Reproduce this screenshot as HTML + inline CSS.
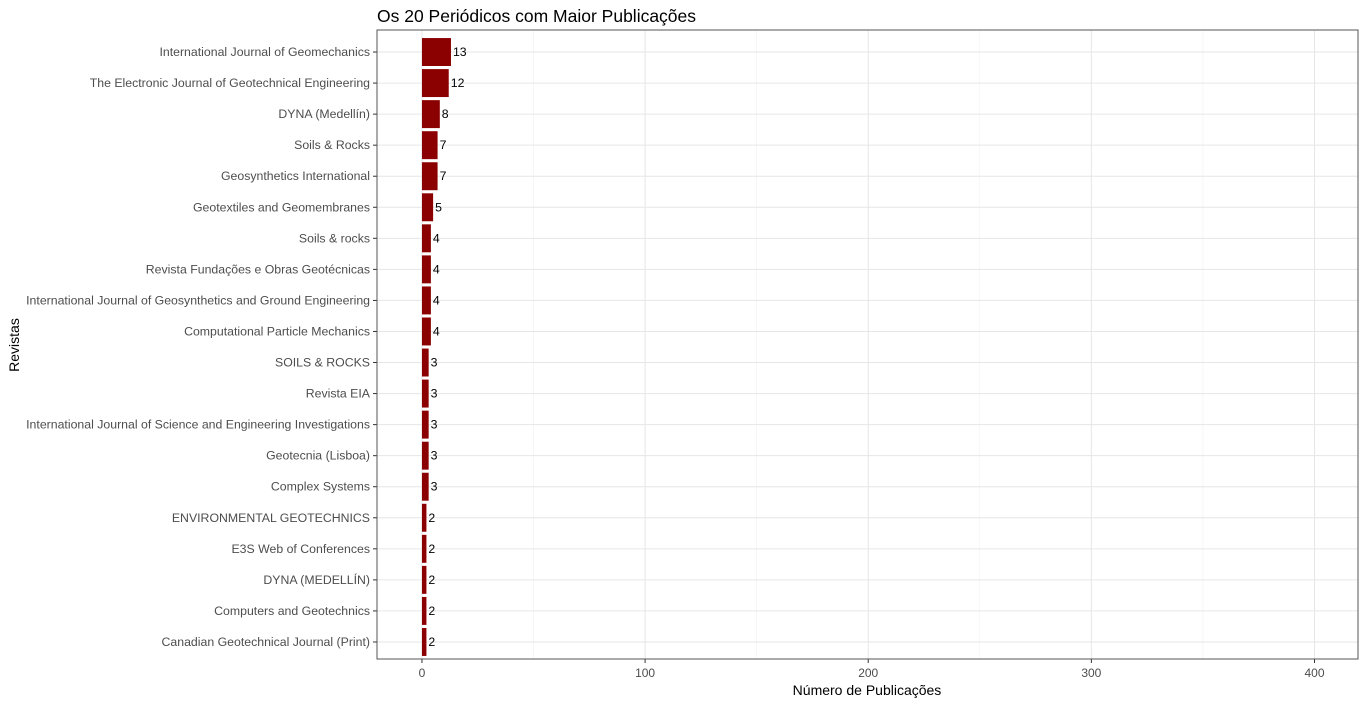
<!DOCTYPE html>
<html><head><meta charset="utf-8"><style>
body{margin:0;background:#fff;font-family:"Liberation Sans",Arial,sans-serif}
svg text{font-family:"Liberation Sans",Arial,sans-serif}
</style></head><body>
<svg id="c" width="1366" height="705"></svg>
<script>
const categories=["International Journal of Geomechanics","The Electronic Journal of Geotechnical Engineering","DYNA (Medellín)","Soils & Rocks","Geosynthetics International","Geotextiles and Geomembranes","Soils & rocks","Revista Fundações e Obras Geotécnicas","International Journal of Geosynthetics and Ground Engineering","Computational Particle Mechanics","SOILS & ROCKS","Revista EIA","International Journal of Science and Engineering Investigations","Geotecnia (Lisboa)","Complex Systems","ENVIRONMENTAL GEOTECHNICS","E3S Web of Conferences","DYNA (MEDELLÍN)","Computers and Geotechnics","Canadian Geotechnical Journal (Print)"];
const values=[13,12,8,7,7,5,4,4,4,4,3,3,3,3,3,2,2,2,2,2];
const xTicks=[0,100,200,300,400];
const xMinor=[50,150,250,350];
const svg=document.getElementById('c');
const NS='http://www.w3.org/2000/svg';
const L=377,R=1358,B=659;
const x0=-20.15,x1=419.5;
const xs=v=>L+(v-x0)/(x1-x0)*(R-L);
const top0=37, rowH=31.05;
const ys=i=>top0+rowH*i+rowH/2-0.5;
function el(t,a,txt){const e=document.createElementNS(NS,t);for(const k in a)e.setAttribute(k,a[k]);if(txt!==undefined)e.textContent=txt;svg.appendChild(e);return e;}
el('rect',{x:L,y:30,width:R-L,height:B-30,fill:'#fff'});
xMinor.forEach(v=>{const g=el('line',{x1:xs(v),x2:xs(v),y1:30,y2:B,stroke:'#f0f0f0','stroke-width':0.6});});
xTicks.forEach(v=>{const g=el('line',{x1:xs(v),x2:xs(v),y1:30,y2:B,stroke:'#e6e6e6','stroke-width':1});
const t=el('text',{x:xs(v),y:B+18,'text-anchor':'middle','font-size':12,fill:'#4d4d4d'},v);
el('line',{x1:xs(v),x2:xs(v),y1:B,y2:B+4,stroke:'#333'});});
categories.forEach((c,i)=>{const y=ys(i);
el('line',{x1:L,x2:R,y1:y,y2:y,stroke:'#e6e6e6','stroke-width':1});
el('line',{x1:L-4,x2:L,y1:y,y2:y,stroke:'#333'});
const t=el('text',{x:L-7,y:y+4,'text-anchor':'end','font-size':12.3,fill:'#4d4d4d'},c);
const b=el('rect',{x:xs(0),y:y-rowH*0.45,width:xs(values[i])-xs(0),height:rowH*0.9,fill:'#8b0000'});
const v=el('text',{x:xs(values[i])+2,y:y+4,'font-size':12.3,fill:'#000'},values[i]);});
el('rect',{x:L,y:30,width:R-L,height:B-30,fill:'none',stroke:'#555','stroke-width':1});
let t=el('text',{x:377,y:22,'font-size':17.5,fill:'#000'},'Os 20 Periódicos com Maior Publicações');
t=el('text',{x:867,y:695,'text-anchor':'middle','font-size':14,fill:'#000'},'Número de Publicações');
t=el('text',{x:19,y:345,'text-anchor':'middle','font-size':14,fill:'#000',transform:'rotate(-90 19 345)'},'Revistas');
</script>
</body></html>
